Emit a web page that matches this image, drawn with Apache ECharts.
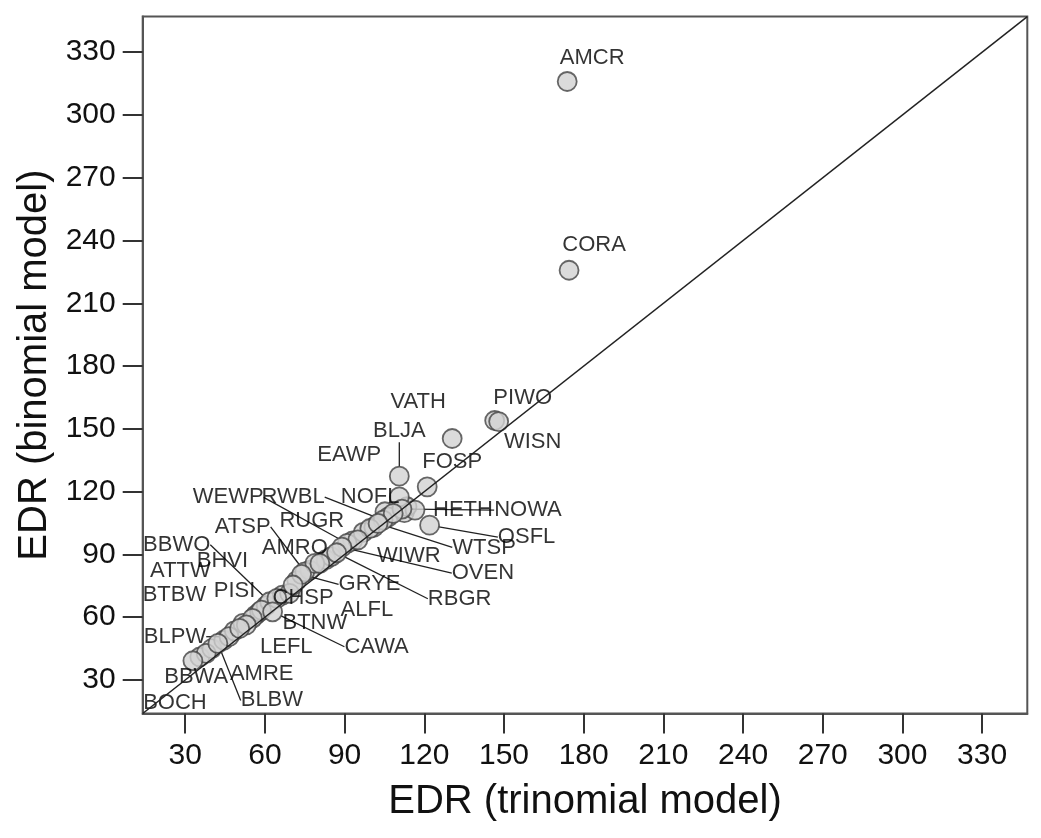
<!DOCTYPE html>
<html><head><meta charset="utf-8">
<script src="https://cdn.jsdelivr.net/npm/echarts@6/dist/echarts.min.js"></script>
<style>html,body{margin:0;padding:0;background:#fff}#chart{width:1041px;height:838px}</style>
</head><body><div id="chart"></div>
<script>
// ---- data ----
const speciesNames = ['AMCR','CORA','PIWO','WISN','VATH','BLJA','EAWP','FOSP','HETH','NOWA','OSFL','WEWP','RWBL','NOFL','RUGR','ATSP','BBWO','AMRO','WTSP','WIWR','OVEN','BHVI','ATTW','BTBW','PISI','GRYE','CHSP','RBGR','ALFL','BTNW','CAWA','LEFL','BLPW','AMRE','BBWA','BLBW','BOCH'];
const trinomialEDR = [173.8,174.5,146.5,148,130.5,110.6,110.6,121.1,116.5,111.6,122,91,104.5,108.3,99.5,75,61.8,78.8,102.6,95,89,66.6,58.7,55.3,69.3,73.8,70.6,87,80.7,64.5,62.9,53,46.5,50.5,37.9,42.3,32.9];
const binomialEDR  = [316,225.8,154,153.5,145.4,127.4,117.5,122.3,111.2,111.7,104,95.3,106.4,109.6,102.4,81.7,67.4,85.7,104.8,97,93.5,70.6,63.4,59.5,71.4,80.5,75.4,90.8,85.7,69,62.6,56.3,50.7,54.7,42.7,47.5,39.2];
const extraTrinomial = [35.5,40,44.5,48.5,51.7,56.5,58,60.5,72,76.9,83,85,93,97,101,105.2,106.5,112.5,113.5];
const extraBinomial  = [41,45,49,53.5,57.1,61,62.6,65.5,77.5,82.5,87.5,89,96.5,100.5,103,110.4,108,110,112.8];
const tickValues = [30,60,90,120,150,180,210,240,270,300,330];
const axisMin = 14, axisMax = 347;

// label placement (pixel offsets from the point, leader line flag)
const labelOffsets = {
  AMCR:[25,-24,0], CORA:[25,-25,0], PIWO:[28,-23,0], WISN:[34,20,0], VATH:[-34,-37,0],
  BLJA:[0,-45,1], EAWP:[-50,-42,0], FOSP:[25,-25,0], HETH:[48,0,0], NOWA:[126,1,1],
  OSFL:[97,12,1], WEWP:[-119,-46,1], RWBL:[-90,-23,1], NOFL:[-23,-16,0], RUGR:[-58,-8,0],
  ATSP:[-62,-45,1], BBWO:[-93,-57,1], AMRO:[-20,-16,0], WTSP:[106,24,1], WIWR:[51,16,0],
  OVEN:[141,26,1], BHVI:[-60,-34,0], ATTW:[-81,-39,0], BTBW:[-78,-23,0], PISI:[-55,-2,0],
  GRYE:[68,10,1], CHSP:[10,13,0], RBGR:[123,46,1], ALFL:[47,46,0], BTNW:[38,25,0],
  CAWA:[104,35,1], LEFL:[40,22,0], BLPW:[-54,0,1], AMRE:[22,46,0], BBWA:[-10,24,0],
  BLBW:[54,57,1], BOCH:[-18,42,0]
};

const FONT = "'Liberation Sans', Arial, sans-serif";
const labeledData = speciesNames.map((n, i) => ({
  name: n,
  value: [trinomialEDR[i], binomialEDR[i]],
  labelLine: { show: !!labelOffsets[n][2] }
}));
const extraData = extraTrinomial.map((x, i) => [x, extraBinomial[i]]);

const markerStyle = { color: '#d2d2d2', borderColor: '#444', borderWidth: 1.8 };
const chart = echarts.init(document.getElementById('chart'), null, { renderer: 'canvas' });
const axisCommon = {
  type: 'value', min: axisMin, max: axisMax,
  axisLine: { show: true, onZero: false, lineStyle: { color: '#555', width: 2 } },
  axisTick: { show: true, length: 20, customValues: tickValues, lineStyle: { color: '#333', width: 2 } },
  axisLabel: { customValues: tickValues, fontSize: 30, color: '#111', margin: 27, fontFamily: FONT },
  splitLine: { show: false },
  nameLocation: 'middle',
  nameTextStyle: { fontSize: 40, color: '#111', fontFamily: FONT }
};
chart.setOption({
  animation: false,
  backgroundColor: '#fff',
  grid: { left: 142.7, right: 13.7, top: 16.6, bottom: 124.5, show: true, borderColor: '#555', borderWidth: 2 },
  xAxis: Object.assign({}, axisCommon, { name: 'EDR (trinomial model)', nameGap: 68 }),
  yAxis: Object.assign({}, axisCommon, { name: 'EDR (binomial model)', nameGap: 86 }),
  series: [
    {
      type: 'scatter', data: extraData, symbolSize: 19, z: 2,
      itemStyle: markerStyle, label: { show: false }
    },
    {
      type: 'scatter', data: labeledData, symbolSize: 19, z: 3,
      itemStyle: markerStyle,
      label: { show: true, position: 'inside', formatter: p => p.name, fontSize: 22, color: '#000',
               textBorderWidth: 0, textBorderColor: 'transparent', fontFamily: FONT },
      labelLine: { show: false, lineStyle: { color: '#222', width: 1.3 } },
      labelLayout: function (params) {
        const o = labelOffsets[speciesNames[params.dataIndex]];
        return { dx: o[0], dy: o[1] };
      }
    },
    {
      type: 'line', data: [[axisMin, axisMin], [axisMax, axisMax]], symbol: 'none', z: 4, silent: true,
      lineStyle: { color: '#222', width: 1.5 }
    }
  ]
});
</script>
</body></html>
